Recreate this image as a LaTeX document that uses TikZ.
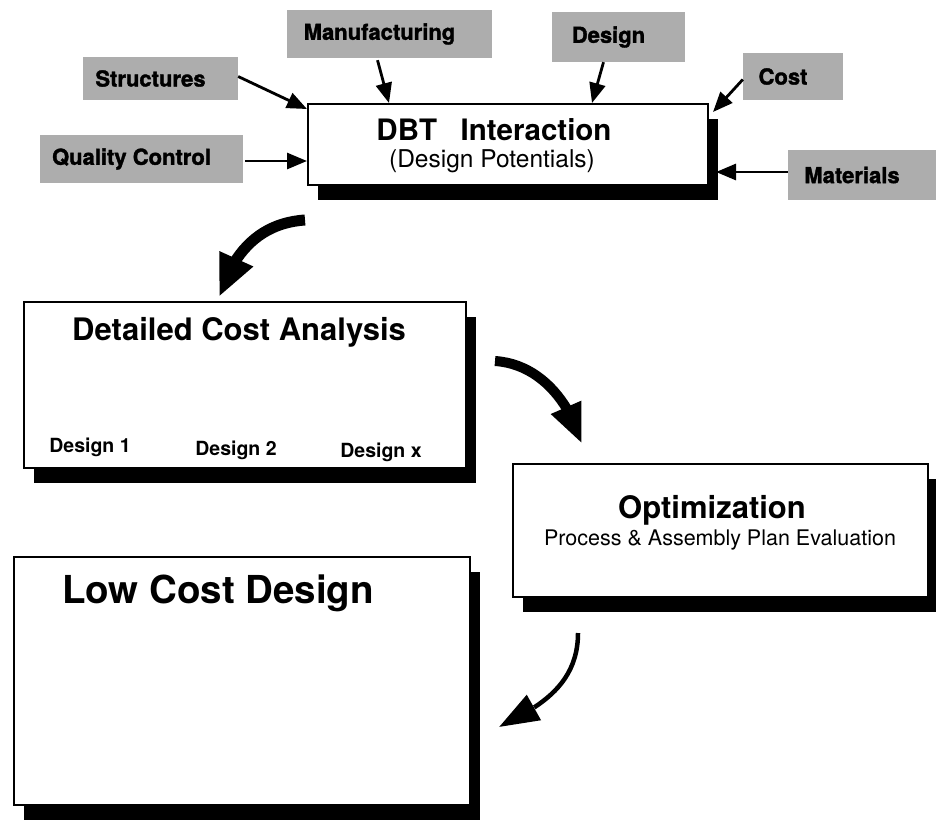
\documentclass[tikz,border=0pt]{standalone}
\usepackage{fontspec}
\setmainfont{TeX Gyre Heros}
\newfontfamily\heavyfont{TeX Gyre Heros}[BoldFeatures={FakeBold=1.6}]
\usetikzlibrary{arrows.meta,shadows,calc,bending}
\begin{document}
\begin{tikzpicture}[x=1pt,y=-1pt,
  box/.style={draw=black, line width=2pt, fill=white, rectangle, inner sep=0pt,
    drop shadow={shadow xshift=10pt, shadow yshift=-15pt, fill=black, opacity=1}},
  lbl/.style={rectangle, inner sep=0pt, font=\heavyfont\bfseries\fontsize{22}{24}\selectfont,
    general shadow={shadow xshift=10pt, shadow yshift=0pt, fill=black!32}},
  dsg/.style={anchor=base, inner sep=0pt, font=\bfseries\fontsize{19.5}{21}\selectfont},
  arr/.style={line width=2.8pt, -{Triangle[length=20pt,width=16pt]}},
  bigarr/.style={line width=11pt, -{Triangle[length=42pt,width=34pt]}},
  midarr/.style={line width=10pt, -{Triangle[length=40pt,width=30pt]}},
  thinarr/.style={line width=4.5pt, -{Triangle[length=40pt,width=28pt]}}
]
\useasboundingbox (0,0) rectangle (936,825);
\fill[white] (0,0) rectangle (936,825);

% main boxes
\node[box, minimum width=400pt, minimum height=81pt] (dbt) at (508,144.5) {};
\node[box, minimum width=442pt, minimum height=166pt] (dca) at (245,385) {};
\node[box, minimum width=415pt, minimum height=133pt] (opt) at (720.5,530.5) {};
\node[box, minimum width=456pt, minimum height=248pt] (lcd) at (242,681) {};

% box texts
\node[anchor=base, inner sep=0pt, font=\bfseries\fontsize{29.5}{31}\selectfont] (dbtT) at (494,140) {DBT\hspace{0.8em}Interaction};
\node[anchor=base, inner sep=0pt, font=\fontsize{24.5}{26}\selectfont] (dbtS) at (492,167) {(Design Potentials)};
\node[anchor=base, inner sep=0pt, font=\bfseries\fontsize{31}{33}\selectfont] (dcaT) at (239,340) {Detailed Cost Analysis};
\node[dsg] (d1) at (90,452) {Design 1};
\node[dsg] (d2) at (236,455) {Design 2};
\node[dsg] (dx) at (381,457) {Design x};
\node[anchor=base, inner sep=0pt, font=\bfseries\fontsize{31}{33}\selectfont] (optT) at (712,518) {Optimization};
\node[anchor=base, inner sep=0pt, font=\fontsize{21.5}{23}\selectfont] (optS) at (720,545) {Process \& Assembly Plan Evaluation};
\node[anchor=base, inner sep=0pt, font=\bfseries\fontsize{38.5}{40}\selectfont] (lcdT) at (218,603) {Low Cost Design};

% input labels
\node[lbl, minimum width=205pt, minimum height=48pt] (manu) at (379.5,34) {Manufacturing};
\node[lbl, minimum width=155pt, minimum height=43pt] (struct) at (150.5,78.5) {Structures};
\node[lbl, minimum width=203pt, minimum height=48pt] (qc) at (131.5,159) {Quality Control};
\node[lbl, minimum width=133pt, minimum height=50pt] (des) at (608.5,37) {Design};
\node[lbl, minimum width=100pt, minimum height=47pt] (cost) at (783,76.5) {Cost};
\node[lbl, minimum width=148pt, minimum height=50pt] (mat) at (852,175) {Materials};

% input arrows
\draw[arr] ($(struct.east)+(10,-2)$) -- ($(dbt.north west)+(0,6)$);
\draw[arr] ($(manu.south)+(-2,2)$) -- ($(dbt.north west)+(82,0)$);
\draw[arr] ($(qc.east)+(12,2)$) coordinate (q0) -- (q0 -| dbt.west);
\draw[arr] ($(des.south)+(-5,0)$) -- ($(dbt.north)+(84,0)$);
\draw[arr] ($(cost.west)+(10,3)$) -- ($(dbt.north east)+(4,9)$);
\draw[arr] ($(mat.west)+(10,-3)$) coordinate (m0) -- ($(m0 -| dbt.east)+(7,0)$);

% flow arrows
\draw[bigarr] ($(dbt.south west)+(-2,34)$) .. controls +(-45,3) and +(14,-45) .. ($(dca.north)+(-26,-4)$);
\draw[midarr] ($(dca.north east)+(28,60)$) .. controls +(45,3) and +(-12,-42) .. ($(opt.north west)+(70,-19)$);
\draw[thinarr] ($(opt.south west)+(66,35)$) .. controls +(0,55) and +(35,-18) .. ($(lcd.north east)+(28,171)$);
\end{tikzpicture}
\end{document}
